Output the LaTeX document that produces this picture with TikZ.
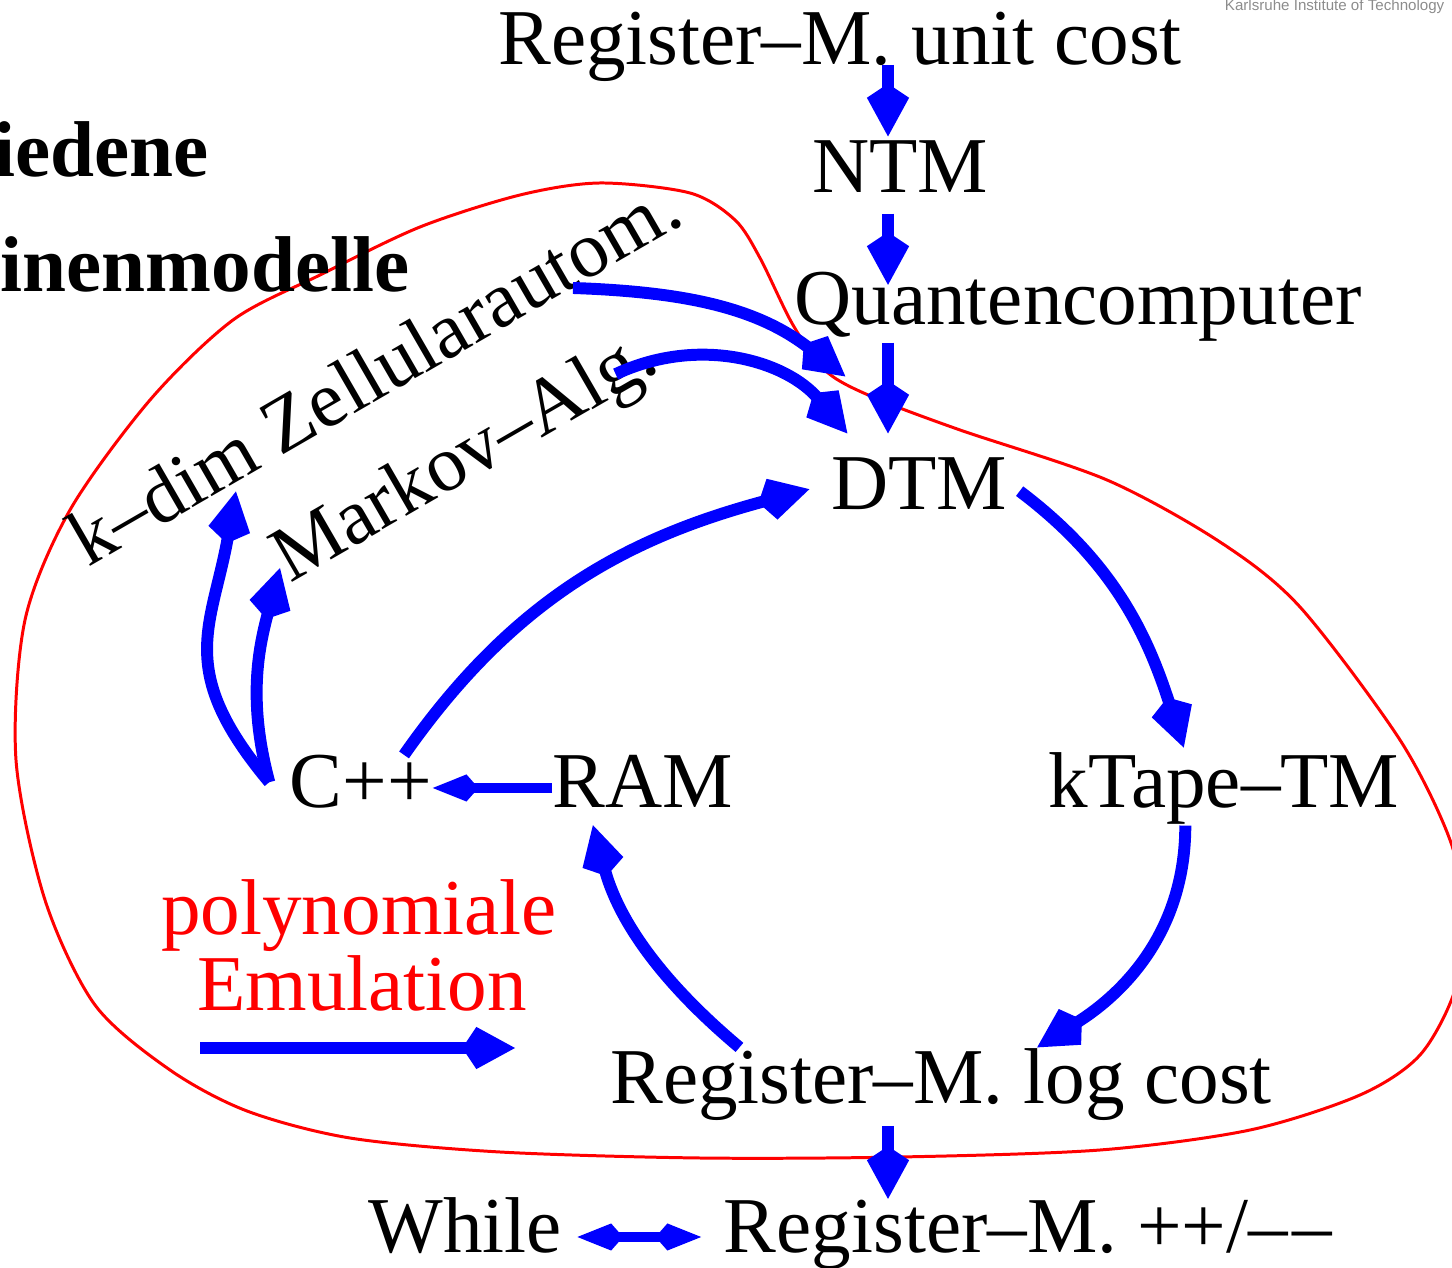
\documentclass[tikz,border=0pt]{standalone}
\usepackage{fontspec}
\setmainfont{Liberation Serif}
\newfontfamily\kitfont{Liberation Sans}
\usetikzlibrary{arrows.meta,calc}
\tikzset{
  model/.style={inner sep=0pt,font=\fontsize{22.5}{26}\selectfont},
  emu/.style={blue,line width=3.4pt,-{Kite[length=15pt,width=12pt,inset=4pt]}},
  emusmall/.style={blue,line width=2.7pt,-{Kite[length=13pt,width=7.7pt,inset=3.4pt]}},
  emuboth/.style={blue,line width=2.7pt,{Kite[length=13pt,width=7.7pt,inset=3.4pt]}-{Kite[length=13pt,width=7.7pt,inset=3.4pt]}},
}
\begin{document}
\begin{tikzpicture}[x=0.01cm,y=0.01cm]
\useasboundingbox (0,0) rectangle (1452,-1268);
\clip (0,0) rectangle (1452,-1268);
\draw[red,line width=0.85pt] plot[smooth cycle] coordinates {(600,-183) (690,-193) (735,-220) (760,-258) (793,-325) (827,-372) (875,-398) (960,-430) (1107,-480) (1220,-542) (1300,-607) (1400,-740) (1450,-840) (1464,-915) (1455,-990) (1420,-1055) (1360,-1095) (1250,-1130) (1100,-1150) (900,-1157) (700,-1158) (500,-1152) (350,-1138) (247,-1111) (170,-1070) (95,-1005) (45,-900) (16,-760) (25,-620) (70,-510) (150,-400) (233,-320) (320,-275) (420,-227) (520,-195)};

\node[model,font=\fontsize{22.5}{26}\bfseries,anchor=base west] (head1) at (-7,-177) {iedene};
\node[model,font=\fontsize{22.5}{26}\bfseries,anchor=base west] (head2) at (0,-292) {inenmodelle};
\node[anchor=base east,inner sep=0pt,text=black!45,font=\kitfont\fontsize{4.3}{5}\selectfont] (kit) at (1445,-11) {Karlsruhe Institute of Technology};

\node[model,anchor=base] (unit) at (840,-65) {Register\textendash M. unit cost};
\node[model,anchor=base] (ntm) at (900,-193) {NTM};
\node[model,anchor=base] (quant) at (1078,-325) {Quantencomputer};
\node[model,anchor=base] (dtm) at (919,-510) {DTM};
\node[model,anchor=base] (ktape) at (1224,-808) {kTape\textendash TM};
\node[model,anchor=base] (ram) at (643,-808) {RAM};
\node[model,anchor=base] (cpp) at (361,-808) {C++};
\node[model,anchor=base] (log) at (941,-1103) {Register\textendash M. log cost};
\node[model,anchor=base] (while) at (465,-1252) {While};
\node[model,anchor=base] (reg) at (1028,-1252) {Register\textendash M. ++/\textendash\kern0.06em\textendash};
\node[model,anchor=base west,rotate=30] (zell) at (88,-568) {k\textendash dim Zellularautom.};
\node[model,anchor=base west,rotate=30] (markov) at (290,-584) {Markov\textendash Alg.};
\node[model,red,anchor=base] (poly) at (359,-935) {polynomiale};
\node[model,red,anchor=base] (emul) at (362,-1010) {Emulation};

\coordinate (col) at (888,0);
\coordinate (legA) at (200,-1048);
\coordinate (legB) at (515,-1048);

\draw[emu,shorten >=0.04cm] (unit.base -| col) -- (ntm.north -| col);
\draw[emu,shorten <=0.2cm,shorten >=-0.13cm] (ntm.south -| col) -- (quant.north -| col);
\draw[emu,shorten >=0.24cm] (quant.south -| col) -- (dtm.north -| col);
\draw[emu] ($(zell.base west)!0.81!(zell.base east)$) to[out=-2,in=142] ([shift={(15,81)}]dtm.north west);
\draw[emu] ($(markov.west)!0.9!(markov.east)$) to[out=25,in=130] ([shift={(17,24)}]dtm.north west);
\draw[emu] ($(cpp.north)!0.6!(cpp.north east)$) to[out=55,in=195] ([shift={(-21,-5)}]dtm.west);
\draw[emu,shorten >=0.05cm] ([shift={(12,-7)}]dtm.east) to[out=-37,in=108] ($(ktape.north west)!0.39!(ktape.north east)$);
\draw[emu] ($(ktape.south west)!0.39!(ktape.south east)$) to[out=-90,in=32] ($(log.north west)!0.645!(log.north east)$);
\draw[emu,shorten >=0.17cm] ($(log.north west)!0.196!(log.north east)$) to[out=140,in=-75] ($(ram.south west)!0.2!(ram.south east)$);
\draw[emusmall] ([yshift=0.2cm]ram.base west) -- ([yshift=0.2cm]cpp.base east);
\draw[emu,shorten >=0.1cm] ([xshift=-0.2cm]cpp.west) to[out=130,in=-100,looseness=1.25] ($(zell.base west)!0.25!(zell.base east)$);
\draw[emu] ([xshift=-0.2cm]cpp.west) to[out=105,in=-105] ([shift={(-10,16)}]markov.base west);
\draw[emu,shorten <=0.05cm] (log.south -| col) -- (reg.north -| col);
\draw[emuboth,shorten <=0.15cm,shorten >=0.22cm] ([yshift=0.15cm]while.base east) -- ([yshift=0.15cm]reg.base west);
\draw[emu] (legA) -- (legB);
\end{tikzpicture}
\end{document}
